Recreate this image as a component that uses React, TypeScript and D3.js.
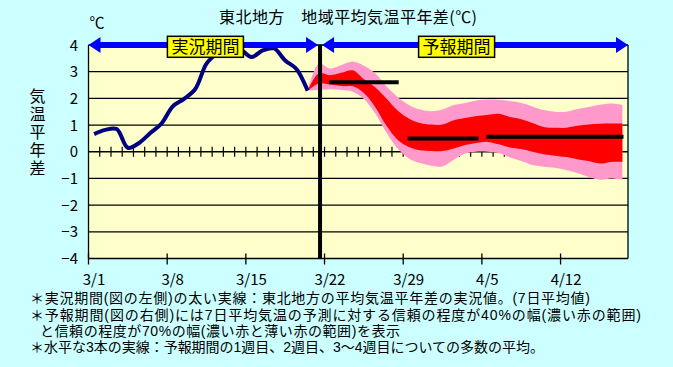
import React from "react";
import * as d3 from "d3";

const W = 673;
const H = 367;
const FONT = "'Noto Sans CJK JP', 'Noto Sans', sans-serif";
const NOTE_FONT = "'Liberation Sans', 'Noto Sans CJK JP', sans-serif";

// 横軸の日付ラベル (7日ごと)
const dateLabels = ["3/1", "3/8", "3/15", "3/22", "3/29", "4/5", "4/12"];
const yTicks = [-4, -3, -2, -1, 0, 1, 2, 3, 4];

// 実況値 (7日平均, 3/1から1日ごと)
const obsValues = [
  0.66, 0.82, 0.85, 0.15, 0.33, 0.7, 1.06, 1.7, 1.98, 2.35, 3.3, 3.72, 4.0,
  3.85, 3.55, 3.8, 3.87, 3.42, 3.1, 2.29,
];

// 予報 (3/20から1日ごと) 70%幅・40%幅の上端と下端
const band70Top = [
  2.29, 3.3, 3.12, 3.25, 3.38, 3.22, 2.94, 2.45, 2.05, 1.75, 1.58, 1.52, 1.58,
  1.75, 1.83, 1.92, 1.96, 1.95, 1.9, 1.83, 1.7, 1.56, 1.5, 1.5, 1.6, 1.68,
  1.76, 1.81, 1.75,
];
const band40Top = [
  2.29, 2.94, 2.87, 2.96, 3.05, 2.72, 2.42, 2.0, 1.55, 1.25, 1.08, 1.02, 1.02,
  1.18, 1.26, 1.34, 1.38, 1.42, 1.3, 1.22, 1.08, 0.93, 0.9, 0.9, 0.97, 1.02,
  1.05, 1.06, 1.06,
];
const band40Bottom = [
  2.29, 2.56, 2.52, 2.46, 2.45, 2.2, 1.68, 0.98, 0.45, 0.18, 0.06, 0.03, 0.03,
  0.12, 0.25, 0.33, 0.37, 0.28, 0.16, 0.1, 0.0, -0.09, -0.15, -0.2, -0.28,
  -0.35, -0.44, -0.38, -0.38,
];
const band70Bottom = [
  2.29, 2.31, 2.34, 2.31, 2.25, 1.98, 1.44, 0.72, 0.12, -0.25, -0.42, -0.52,
  -0.55, -0.3, -0.07, 0.0, 0.0, -0.05, -0.22, -0.35, -0.5, -0.56, -0.6, -0.68,
  -0.8, -0.95, -1.05, -1.0, -1.05,
];

// 1週目, 2週目, 3～4週目の多数の平均
const weekFrom = [21.4, 28.4, 35.4];
const weekTo = [27.6, 34.7, 47.6];
const weekMean = [2.6, 0.5, 0.56];

const obsStart = 0.5;
const fcstStart = 19.5;
const boundaryDay = 20.6;
const lastDay = 48;

const notes = [
  "＊実況期間(図の左側)の太い実線：東北地方の平均気温平年差の実況値。(7日平均値)",
  "＊予報期間(図の右側)には7日平均気温の予測に対する信頼の程度が40%の幅(濃い赤の範囲)",
  "と信頼の程度が70%の幅(濃い赤と薄い赤の範囲)を表示",
  "＊水平な3本の実線：予報期間の1週目、2週目、3～4週目についての多数の平均。",
];
// 注記の位置と幅 (参照図に合わせる)
const noteX = [30, 30, 40, 30];
const noteY = [303, 319.5, 335.5, 352];
const noteLen = [560, 611, 360, 514];

const x = d3.scaleLinear().domain([0, lastDay]).range([88.5, 628]);
const y = d3.scaleLinear().domain([-4, 4]).range([258.5, 45]);

function Arrow({ x1, x2, cy }: { x1: number; x2: number; cy: number }) {
  const hl = 12;
  const hw = 8;
  return (
    <g fill="#0000ff">
      <rect x={x1 + hl - 1} y={cy - 3} width={x2 - x1 - 2 * hl + 2} height={6} />
      <polygon points={`${x1},${cy} ${x1 + hl},${cy - hw} ${x1 + hl},${cy + hw}`} />
      <polygon points={`${x2},${cy} ${x2 - hl},${cy - hw} ${x2 - hl},${cy + hw}`} />
    </g>
  );
}

function Label({ cx, cy, text }: { cx: number; cy: number; text: string }) {
  const w = 76;
  const h = 21;
  return (
    <g>
      <rect x={cx - w / 2} y={cy - h / 2} width={w} height={h} fill="#ffff00" stroke="#000" strokeWidth={1.5} />
      <text x={cx} y={cy + 6} textAnchor="middle" fontSize={17} fontFamily={FONT} fill="#000">
        {text}
      </text>
    </g>
  );
}

export default function App() {
  const obsLine = d3
    .line<number>()
    .x((_, i) => x(obsStart + i))
    .y((d) => y(d))
    .curve(d3.curveCatmullRom)(obsValues) as string;

  const outerArea = d3
    .area<number>()
    .x((_, i) => x(fcstStart + i))
    .y0((_, i) => y(band70Bottom[i]))
    .y1((d) => y(d))
    .curve(d3.curveCatmullRom)(band70Top) as string;

  const innerArea = d3
    .area<number>()
    .x((_, i) => x(fcstStart + i))
    .y0((_, i) => y(band40Bottom[i]))
    .y1((d) => y(d))
    .curve(d3.curveCatmullRom)(band40Top) as string;

  const x0 = x(0);
  const x1 = x(lastDay);
  const xb = x(boundaryDay);
  const yTop = y(4);
  const yBot = y(-4);
  const dailyTicks = d3.range(1, lastDay);

  return (
    <svg
      width={W}
      height={H}
      style={{ position: "absolute", left: 0, top: 0 }}
      fontFamily={FONT}
    >
      <rect width={W} height={H} fill="#ccffff" />
      <rect x={x0} y={yTop} width={x1 - x0} height={yBot - yTop} fill="#ffffcc" />

      {yTicks.map((t) => (
        <line key={t} x1={x0} x2={x1} y1={y(t)} y2={y(t)} stroke="#000" strokeWidth={1.3} />
      ))}
      {dailyTicks.map((d) => (
        <line key={d} x1={x(d)} x2={x(d)} y1={y(0) - 5} y2={y(0) + 5} stroke="#000" strokeWidth={1.2} />
      ))}
      {dateLabels.map((lab, i) => (
        <g key={lab}>
          <line x1={x(i * 7)} x2={x(i * 7)} y1={yBot - 5} y2={yBot + 6} stroke="#000" strokeWidth={1.3} />
          <text x={x(i * 7) + 5.5} y={285} textAnchor="middle" fontSize={15} fill="#000">
            {lab}
          </text>
        </g>
      ))}

      <path d={outerArea} fill="#ff99cc" />
      <path d={innerArea} fill="#ff0000" />
      <path d={obsLine} fill="none" stroke="#000080" strokeWidth={4} strokeLinejoin="round" />

      {weekMean.map((v, i) => (
        <line key={i} x1={x(weekFrom[i])} x2={x(weekTo[i])} y1={y(v)} y2={y(v)} stroke="#000" strokeWidth={4} />
      ))}

      <line x1={x0} x2={x0} y1={yTop} y2={yBot} stroke="#000" strokeWidth={1.3} />
      <line x1={x1} x2={x1} y1={yTop} y2={yBot} stroke="#000" strokeWidth={1.3} />
      <line x1={xb} x2={xb} y1={yTop} y2={yBot} stroke="#000" strokeWidth={4} />

      <Arrow x1={x0} x2={xb - 2} cy={yTop} />
      <Arrow x1={xb + 2} x2={x1} cy={yTop} />
      <Label cx={x(10.4)} cy={46.8} text="実況期間" />
      <Label cx={x(32.75)} cy={46.8} text="予報期間" />

      {yTicks.map((t) => (
        <text key={t} x={78} y={y(t) + 5.5} textAnchor="end" fontSize={15} fill="#000">
          {t < 0 ? `−${-t}` : t}
        </text>
      ))}
      <text x={97} y={28} textAnchor="middle" fontSize={15} fill="#000">
        ℃
      </text>
      {/* 縦書きの軸タイトル */}
      <text
        x={37.5}
        y={88}
        fontSize={16}
        fill="#000"
        style={{ writingMode: "vertical-rl", letterSpacing: "2px" }}
      >
        気温平年差
      </text>
      <text x={348} y={22.5} textAnchor="middle" fontSize={16} fill="#000" textLength={258} lengthAdjust="spacing">
        東北地方　地域平均気温平年差(℃)
      </text>

      {notes.map((n, i) => (
        <text
          key={i}
          x={noteX[i]}
          y={noteY[i]}
          fontSize={14}
          fontFamily={NOTE_FONT}
          fill="#000"
          textLength={noteLen[i]}
          lengthAdjust="spacing"
        >
          {n}
        </text>
      ))}
    </svg>
  );
}
